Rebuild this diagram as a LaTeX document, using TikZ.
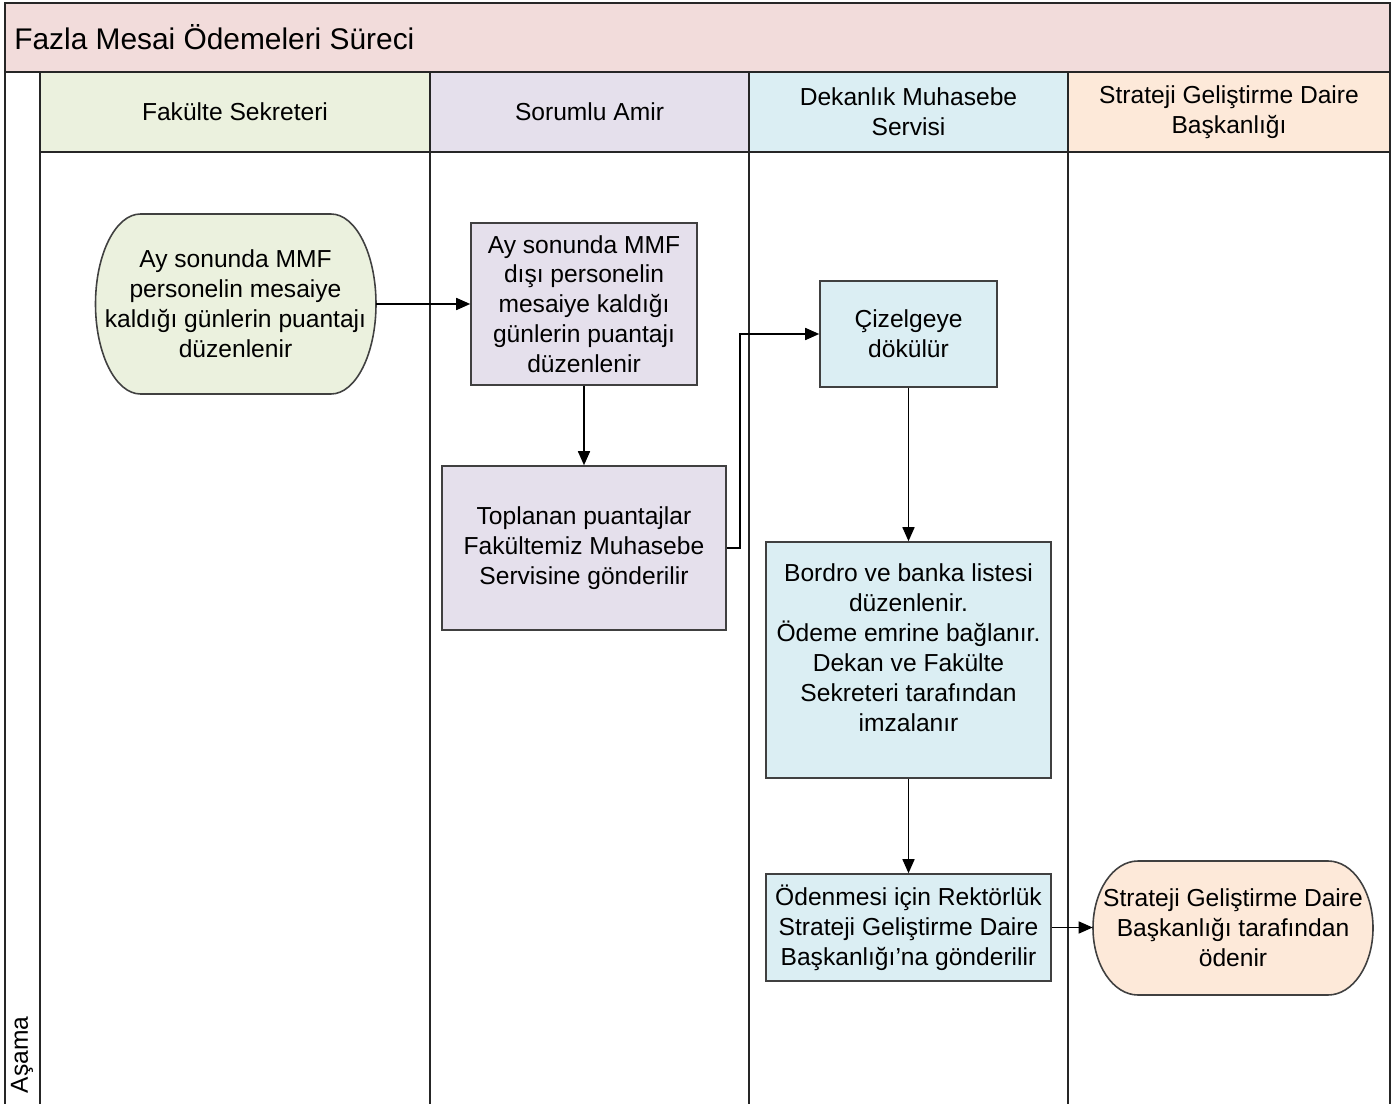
\documentclass[tikz,border=0pt]{standalone}
\usepackage{fontspec}
\setmainfont{Liberation Sans}
\usetikzlibrary{arrows.meta}
\definecolor{titlepink}{HTML}{F2DCDB}
\definecolor{lanegreen}{HTML}{EBF1DE}
\definecolor{lanelilac}{HTML}{E5E0EC}
\definecolor{laneblue}{HTML}{DBEEF3}
\definecolor{lanepeach}{HTML}{FDE9D9}
\definecolor{edgegray}{HTML}{404040}
\begin{document}
\begin{tikzpicture}[x=0.02cm,y=-0.02cm,
  txt/.style={font=\fontsize{14}{17}\selectfont,align=center,inner sep=0pt},
  header/.style={txt,fill=#1,minimum height=16mm},
  lane/.style={draw=black!85,line width=1pt},
  procbox/.style={txt,draw=edgegray,line width=0.9pt,fill=#1},
  termtext/.style={txt},
  termline/.style={draw=edgegray,line width=0.9pt,fill=#1},
  flow/.style={draw=black,line width=0.9pt,-{Triangle[length=2.8mm,width=2.4mm]}}
]
\useasboundingbox (0,0) rectangle (1396,1104);

% title band and lane headers
\fill[titlepink] (5,3) rectangle (1390,72);
\node[anchor=west,inner sep=0pt,font=\fontsize{17}{20}\selectfont] (title) at (14,37) {Fazla Mesai Ödemeleri Süreci};
\node[header=lanegreen,minimum width=78mm] (h1) at (235,112) {Fakülte Sekreteri};
\node[header=lanelilac,minimum width=63.8mm] (h2) at (589.5,112) {Sorumlu Amir};
\node[header=laneblue,minimum width=63.8mm] (h3) at (908.5,112) {Dekanlık Muhasebe\\Servisi};
\node[header=lanepeach,minimum width=64.4mm] (h4) at (1229,112) {Strateji Geliştirme Daire\\Başkanlığı};
\node[txt,rotate=90] (phase) at (22,1055) {Aşama};

% frame and lane separators
\draw[lane] (5,1104) -- (5,3) -- (1390,3) -- (1390,1104);
\draw[lane] (5,72) -- (1390,72);
\draw[lane] (40,152) -- (1390,152);
\foreach \x in {40,430,749,1068}
  \draw[lane] (\x,72) -- (\x,1104);

% terminator outlines
\draw[termline=lanegreen] (140.5,214) -- (331,214)
  arc[start angle=-90,end angle=90,x radius=45,y radius=90] -- (140.5,394)
  arc[start angle=90,end angle=270,x radius=45,y radius=90] -- cycle;
\draw[termline=lanepeach] (1138,861) -- (1328,861)
  arc[start angle=-90,end angle=90,x radius=45,y radius=67] -- (1138,995)
  arc[start angle=90,end angle=270,x radius=45,y radius=67] -- cycle;

% steps
\node[termtext,minimum width=56.2mm,minimum height=36mm] (A) at (235.5,304)
  {Ay sonunda MMF\\personelin mesaiye\\kaldığı günlerin puantajı\\düzenlenir};
\node[procbox=lanelilac,minimum width=45.2mm,minimum height=32.4mm] (B) at (584,304)
  {Ay sonunda MMF\\dışı personelin\\mesaiye kaldığı\\günlerin puantajı\\düzenlenir};
\node[procbox=lanelilac,minimum width=56.8mm,minimum height=32.8mm] (C) at (584,548)
  {Toplanan puantajlar\\Fakültemiz Muhasebe\\Servisine gönderilir};
\node[procbox=laneblue,minimum width=35.4mm,minimum height=21.2mm] (D) at (908.5,334)
  {Çizelgeye\\dökülür};
\node[procbox=laneblue,minimum width=57mm,minimum height=47.2mm,text depth=5mm] (E) at (908.5,660)
  {Bordro ve banka listesi\\düzenlenir.\\Ödeme emrine bağlanır.\\Dekan ve Fakülte\\Sekreteri tarafından\\imzalanır};
\node[procbox=laneblue,minimum width=57mm,minimum height=21.4mm] (F) at (908.5,927.5)
  {Ödenmesi için Rektörlük\\Strateji Geliştirme Daire\\Başkanlığı’na gönderilir};
\node[termtext,minimum width=56mm,minimum height=26.8mm] (G) at (1233,927.5)
  {Strateji Geliştirme Daire\\Başkanlığı tarafından\\ödenir};

% connectors
\draw[flow] (A.east) -- (B.west);
\draw[flow] (B.south) -- (C.north);
\draw[flow] (C.east) -- ++(13,0) |- (D.west);
\draw[flow] (D.south) -- (E.north);
\draw[flow] (E.south) -- (F.north);
\draw[flow] (F.east) -- (G.west);
\end{tikzpicture}
\end{document}
